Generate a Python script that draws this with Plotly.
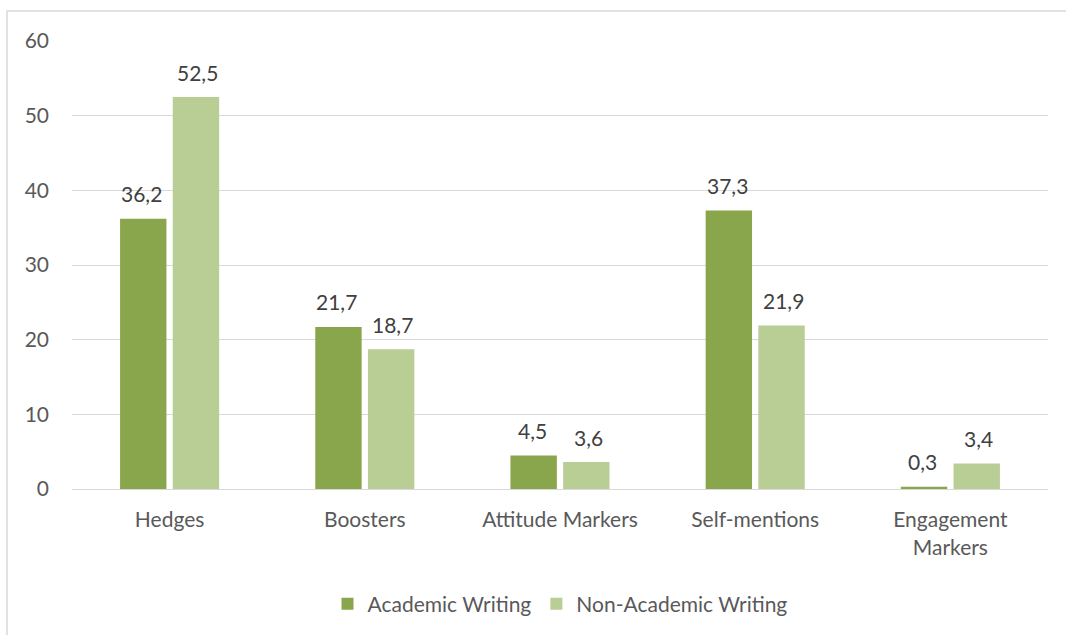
import plotly.graph_objects as go

categories = ["Hedges", "Boosters", "Attitude Markers", "Self-mentions", "Engagement<br>Markers"]
academic = [36.2, 21.7, 4.5, 37.3, 0.3]
non_academic = [52.5, 18.7, 3.6, 21.9, 3.4]
series_names = ["Academic Writing", "Non-Academic Writing"]
tick_vals = [0, 10, 20, 30, 40, 50, 60]

def fmt(v):
    return f"{v:.1f}".replace(".", ",")

W, H = 1066, 635
ml, mr, mt, mb = 72, 18, 41, 145
pw, ph = W - ml - mr, H - mt - mb
FONT = "Lato, Open Sans, sans-serif"
FS = 21

fig = go.Figure()
fig.add_trace(go.Bar(x=categories, y=academic, name=series_names[0],
                     marker=dict(color="#89A64C", line=dict(width=0))))
fig.add_trace(go.Bar(x=categories, y=non_academic, name=series_names[1],
                     marker=dict(color="#B9CE95", line=dict(width=0))))

annotations = []
for vals, dx in ((academic, -28), (non_academic, 28)):
    for c, v in zip(categories, vals):
        annotations.append(dict(x=c, y=v, xref="x", yref="y", text=fmt(v), showarrow=False,
                                xshift=dx, yshift=25, yanchor="middle",
                                font=dict(family=FONT, size=FS, color="#404040")))

fig.update_layout(
    width=W, height=H,
    margin=dict(l=ml, r=mr, t=mt, b=mb),
    paper_bgcolor="white", plot_bgcolor="white",
    font=dict(family=FONT, color="#595959", size=FS),
    barmode="group", bargap=0.46, bargroupgap=0.12,
    legend=dict(orientation="h", x=0.5, xanchor="center", y=-0.254, yanchor="middle",
                font=dict(size=FS, color="#595959"), traceorder="normal"),
    xaxis=dict(showgrid=False, showline=True, linecolor="#D9D9D9", linewidth=1,
               ticks="", ticklabelstandoff=12, tickfont=dict(size=FS, color="#595959")),
    yaxis=dict(range=[0, 60], tickvals=tick_vals, showgrid=True, gridcolor="#D9D9D9",
               gridwidth=1, zeroline=False, showline=False, ticks="",
               ticklabelstandoff=22, tickfont=dict(size=FS, color="#595959")),
    annotations=annotations,
    shapes=[dict(type="rect", xref="paper", yref="paper",
                 x0=(7 - ml) / pw, x1=(W + 10 - ml) / pw,
                 y0=-(mb + 10) / ph, y1=(H - mb - 11) / ph,
                 line=dict(color="#D9D9D9", width=1.5), fillcolor="rgba(0,0,0,0)", layer="below")],
)
fig.write_html("out.html", config={"displayModeBar": False},
               post_script="document.body.style.margin='0';")
